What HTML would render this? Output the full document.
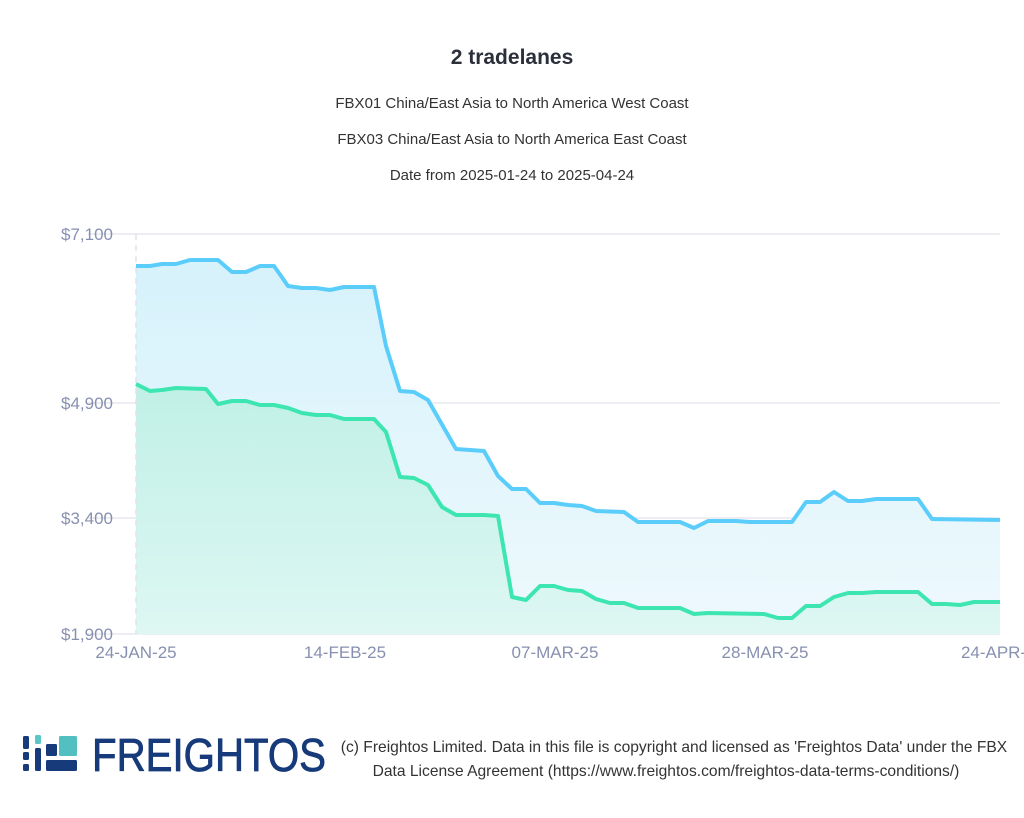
<!DOCTYPE html>
<html><head><meta charset="utf-8"><style>
body{margin:0;background:#fff;width:1024px;height:813px;overflow:hidden;font-family:"Liberation Sans",sans-serif}
</style></head><body>
<svg width="1024" height="813" xmlns="http://www.w3.org/2000/svg" font-family="Liberation Sans, sans-serif">
<defs>
<linearGradient id="gb" x1="0" y1="0" x2="0" y2="1"><stop offset="0" stop-color="#d6f2fb"/><stop offset="1" stop-color="#eef9fd"/></linearGradient>
<linearGradient id="gg" x1="0" y1="0" x2="0" y2="1"><stop offset="0" stop-color="#c0f0e6"/><stop offset="1" stop-color="#def7f3"/></linearGradient>
</defs>
<text x="512" y="64" text-anchor="middle" font-size="21" font-weight="bold" fill="#2b2f3a">2 tradelanes</text>
<text x="512" y="108" text-anchor="middle" font-size="15" fill="#333">FBX01 China/East Asia to North America West Coast</text>
<text x="512" y="144" text-anchor="middle" font-size="15" fill="#333">FBX03 China/East Asia to North America East Coast</text>
<text x="512" y="180" text-anchor="middle" font-size="15" fill="#333">Date from 2025-01-24 to 2025-04-24</text>
<g stroke="#e6e9ef" stroke-width="1.5">
<line x1="88" y1="234" x2="1000" y2="234"/><line x1="88" y1="403" x2="1000" y2="403"/><line x1="88" y1="518" x2="1000" y2="518"/><line x1="88" y1="634" x2="1000" y2="634"/>
</g>
<g font-size="17" fill="#8790b0" text-anchor="end">
<text x="113" y="240">$7,100</text><text x="113" y="409">$4,900</text><text x="113" y="524">$3,400</text><text x="113" y="640">$1,900</text>
</g>
<polygon fill="url(#gb)" points="136,634 136,266 150,266 162,264 176,264 190,260 218,260 232,272 246,272 260,266 274,266 288,286 302,288 316,288 330,290 344,287 374,287 386,346 400,391 414,392 428,400 456,449 484,451 498,476 512,489 526,489 540,503 554,503 568,505 582,506 596,511 624,512 638,522 680,522 694,528 708,521 736,521 750,522 792,522 806,502 820,502 834,492 848,501 862,501 876,499 918,499 932,519 1000,520 1000,634"/>
<polygon fill="url(#gg)" points="136,634 136,384 150,391 162,390 176,388 206,389 218,404 232,401 246,401 260,405 274,405 288,408 302,413 316,415 330,415 344,419 374,419 386,432 400,477 414,478 428,485 442,507 456,515 484,515 498,516 512,597 526,600 540,586 554,586 568,590 582,591 596,599 610,603 624,603 638,608 680,608 694,614 708,613 764,614 778,618 792,618 806,606 820,606 834,597 848,593 862,593 876,592 918,592 932,604 946,604 960,605 974,602 1000,602 1000,634"/>
<line x1="136" y1="234" x2="136" y2="634" stroke="#dfe3ea" stroke-width="1.5" stroke-dasharray="6,5"/>
<polyline fill="none" stroke="#5bcdfa" stroke-width="4" stroke-linejoin="round" points="136,266 150,266 162,264 176,264 190,260 218,260 232,272 246,272 260,266 274,266 288,286 302,288 316,288 330,290 344,287 374,287 386,346 400,391 414,392 428,400 456,449 484,451 498,476 512,489 526,489 540,503 554,503 568,505 582,506 596,511 624,512 638,522 680,522 694,528 708,521 736,521 750,522 792,522 806,502 820,502 834,492 848,501 862,501 876,499 918,499 932,519 1000,520"/>
<polyline fill="none" stroke="#3de6b0" stroke-width="4" stroke-linejoin="round" points="136,384 150,391 162,390 176,388 206,389 218,404 232,401 246,401 260,405 274,405 288,408 302,413 316,415 330,415 344,419 374,419 386,432 400,477 414,478 428,485 442,507 456,515 484,515 498,516 512,597 526,600 540,586 554,586 568,590 582,591 596,599 610,603 624,603 638,608 680,608 694,614 708,613 764,614 778,618 792,618 806,606 820,606 834,597 848,593 862,593 876,592 918,592 932,604 946,604 960,605 974,602 1000,602"/>
<g font-size="17" fill="#8790b0" text-anchor="middle">
<text x="136" y="658">24-JAN-25</text><text x="345" y="658">14-FEB-25</text><text x="555" y="658">07-MAR-25</text><text x="765" y="658">28-MAR-25</text><text x="1003" y="658">24-APR-25</text>
</g>
<g>
<rect x="23" y="736" width="6" height="13" rx="1.5" fill="#173a7a"/>
<rect x="23" y="752" width="6" height="8" rx="1.5" fill="#173a7a"/>
<rect x="23" y="764" width="6" height="7" rx="1.5" fill="#173a7a"/>
<rect x="35" y="735" width="6" height="9" rx="1.5" fill="#5bc6c6"/>
<rect x="35" y="748" width="6" height="23" rx="1.5" fill="#173a7a"/>
<rect x="46" y="744" width="11" height="12" rx="1.5" fill="#173a7a"/>
<rect x="59" y="736" width="18" height="20" rx="1.5" fill="#52bfc0"/>
<rect x="46" y="760" width="31" height="11" rx="1.5" fill="#173a7a"/>
<text x="92" y="771" font-size="46" fill="#173a7a" stroke="#173a7a" stroke-width="0.8" textLength="234" lengthAdjust="spacingAndGlyphs">FREIGHTOS</text>
</g>
<text x="674" y="752" text-anchor="middle" font-size="15.6" fill="#333">(c) Freightos Limited. Data in this file is copyright and licensed as 'Freightos Data' under the FBX</text>
<text x="666" y="776" text-anchor="middle" font-size="15.6" fill="#333">Data License Agreement (https://www.freightos.com/freightos-data-terms-conditions/)</text>
</svg>
</body></html>
